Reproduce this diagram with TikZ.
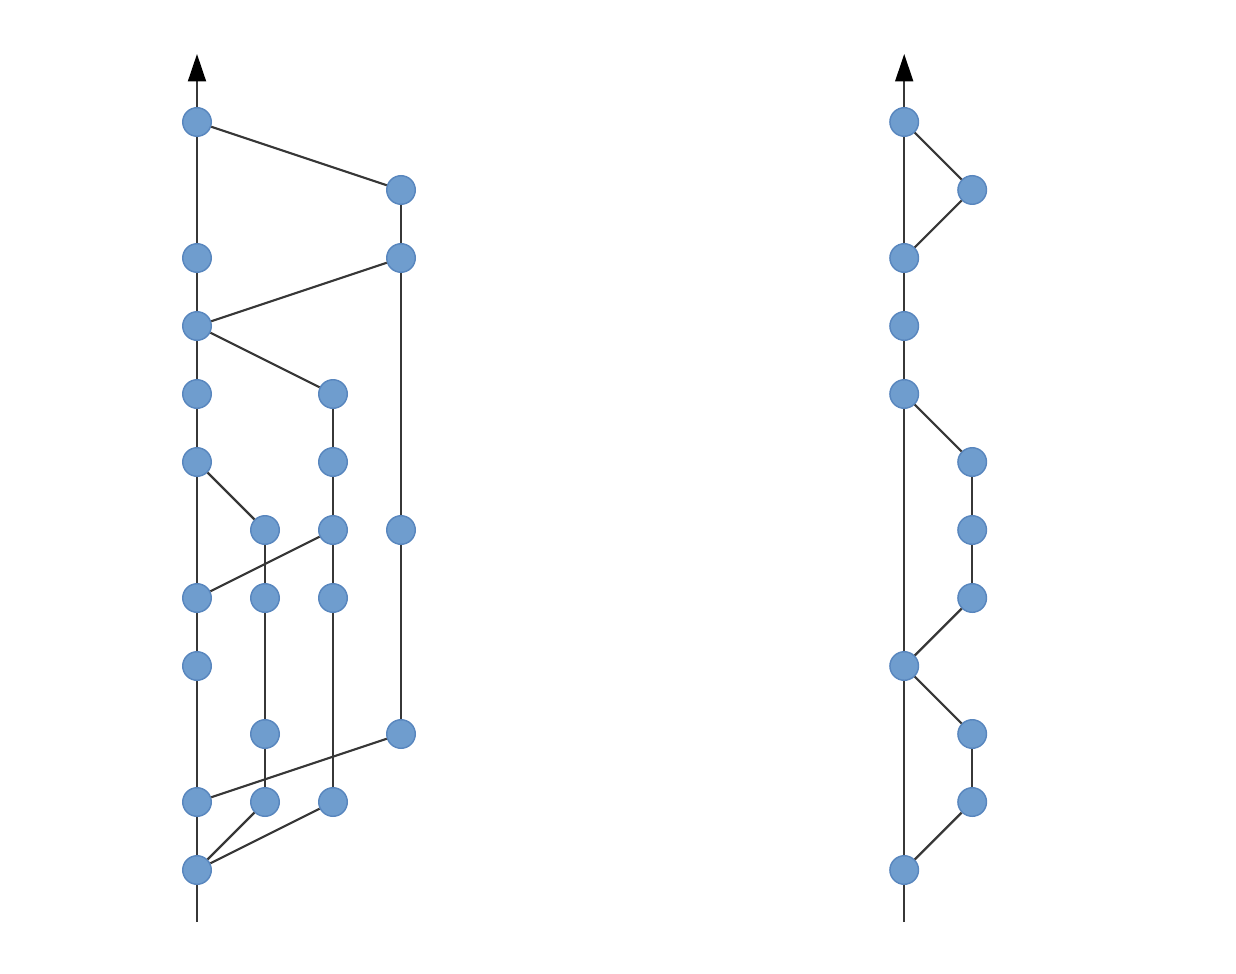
\documentclass[tikz,border=0pt]{standalone}
\usepackage{tikz}
\usepackage{xcolor}
\usetikzlibrary{arrows.meta, positioning}
\definecolor{dotfill}{RGB}{111,157,206}
\definecolor{dotrim}{RGB}{88,134,190}
\definecolor{linegray}{RGB}{55,55,55}

\begin{document}
\begin{tikzpicture}[
    dot/.style={circle, fill=dotfill, draw=dotrim, line width=0.6pt, minimum size=0.42cm, inner sep=0pt},
    link/.style={draw=linegray, line width=0.9pt},
    axis/.style={link, -{Triangle[length=11.5pt, width=7.5pt, color=black]}}
  ]
                        \useasboundingbox (-2.897, -1.529) rectangle (15.279, 12.794);

                        % left
                        \node[dot] (a11) at (0, 11) {};
                        \node[dot] (a9) at (0, 9) {};
                        \node[dot] (a8) at (0, 8) {};
                        \node[dot] (a7) at (0, 7) {};
                        \node[dot] (a6) at (0, 6) {};
                        \node[dot] (a4) at (0, 4) {};
                        \node[dot] (a3) at (0, 3) {};
                        \node[dot] (a1) at (0, 1) {};
                        \node[dot] (a0) at (0, 0) {};
                        \node[dot] (b5) at (1, 5) {};
                        \node[dot] (b4) at (1, 4) {};
                        \node[dot] (b2) at (1, 2) {};
                        \node[dot] (b1) at (1, 1) {};
                        \node[dot] (c7) at (2, 7) {};
                        \node[dot] (c6) at (2, 6) {};
                        \node[dot] (c5) at (2, 5) {};
                        \node[dot] (c4) at (2, 4) {};
                        \node[dot] (c1) at (2, 1) {};
                        \node[dot] (d10) at (3, 10) {};
                        \node[dot] (d9) at (3, 9) {};
                        \node[dot] (d5) at (3, 5) {};
                        \node[dot] (d2) at (3, 2) {};
                        \coordinate (abot) at (0, -0.765);
                        \coordinate (atop) at (0, 12);

                        % right
                        \node[dot] (e11) at (10.4, 11) {};
                        \node[dot] (e9) at (10.4, 9) {};
                        \node[dot] (e8) at (10.4, 8) {};
                        \node[dot] (e7) at (10.4, 7) {};
                        \node[dot] (e3) at (10.4, 3) {};
                        \node[dot] (e0) at (10.4, 0) {};
                        \node[dot] (f10) at (11.4, 10) {};
                        \node[dot] (f6) at (11.4, 6) {};
                        \node[dot] (f5) at (11.4, 5) {};
                        \node[dot] (f4) at (11.4, 4) {};
                        \node[dot] (f2) at (11.4, 2) {};
                        \node[dot] (f1) at (11.4, 1) {};
                        \coordinate (ebot) at (10.4, -0.765);
                        \coordinate (etop) at (10.4, 12);

                        \draw[axis] (abot) -- (a0) -- (a1) -- (a3) -- (a4) -- (a6) -- (a7) -- (a8) -- (a9) -- (a11) -- (atop);
                        \draw[axis] (ebot) -- (e0) -- (e3) -- (e7) -- (e8) -- (e9) -- (e11) -- (etop);

                        \draw[link]
                        (a11) edge (d10)
                        (d10) edge (d9)
                        (d9) edge (a8)
                        (d9) edge (d5)
                        (d5) edge (d2)
                        (a8) edge (c7)
                        (c7) edge (c6)
                        (c6) edge (c5)
                        (c5) edge (c4)
                        (c4) edge (c1)
                        (a6) edge (b5)
                        (b5) edge (b4)
                        (b4) edge (b2)
                        (b2) edge (b1)
                        (c5) edge (a4)
                        (d2) edge (a1)
                        (a0) edge (b1)
                        (a0) edge (c1)

                        (e11) edge (f10)
                        (f10) edge (e9)
                        (e7) edge (f6)
                        (f6) edge (f5)
                        (f5) edge (f4)
                        (f4) edge (e3)
                        (e3) edge (f2)
                        (f2) edge (f1)
                        (f1) edge (e0);
                    \end{tikzpicture}
\end{document}
